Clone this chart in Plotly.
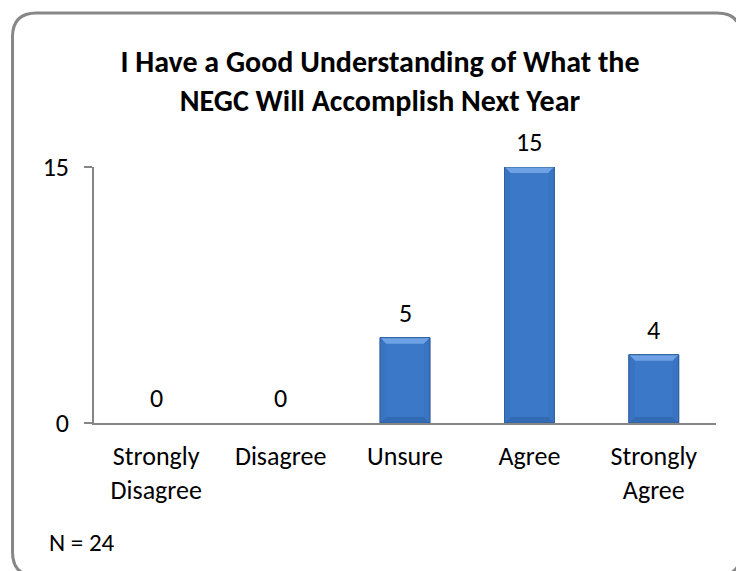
import plotly.graph_objects as go

# Survey responses
categories = ["Strongly<br>Disagree", "Disagree", "Unsure", "Agree", "Strongly<br>Agree"]
counts = [0, 0, 5, 15, 4]
y_ticks = [0, 15]
title_text = "I Have a Good Understanding of What the<br>NEGC Will Accomplish Next Year"
note_text = "N = 24"

FONT = "Carlito, Lato, sans-serif"
GREY = "#868686"

W, H = 736, 571
ML, MR, MT, MB = 94, 20, 167, 148
PW, PH = W - ML - MR, H - MT - MB
Y_MAX = 15
BAR_W = 0.4

positions = list(range(len(categories)))


def px(xp):
    return (xp - ML) / PW


def py(yp):
    return (H - MB - yp) / PH


fig = go.Figure()
fig.add_trace(go.Bar(
    x=positions,
    y=counts,
    width=BAR_W,
    marker=dict(color="#3B79C8",
                line=dict(color="#2F609F", width=[0 if v == 0 else 1 for v in counts])),
    hovertext=[c.replace("<br>", " ") for c in categories],
    hoverinfo="text+y",
))

# Bevelled edges on each bar (6 px deep)
bev_x = 6 / (PW / len(categories))
bev_y = 6 * Y_MAX / PH
hw = BAR_W / 2
for i, v in zip(positions, counts):
    if v <= 0:
        continue
    x0, x1 = i - hw, i + hw
    faces = [
        ("#6EA2E4", [(x0, v), (x1, v), (x1 - bev_x, v - bev_y), (x0 + bev_x, v - bev_y)]),
        ("#336AB4", [(x0, 0), (x1, 0), (x1 - bev_x, bev_y), (x0 + bev_x, bev_y)]),
        ("#3874C2", [(x0, 0), (x0, v), (x0 + bev_x, v - bev_y), (x0 + bev_x, bev_y)]),
        ("#3874C2", [(x1, 0), (x1, v), (x1 - bev_x, v - bev_y), (x1 - bev_x, bev_y)]),
    ]
    for color, pts in faces:
        d = "M " + " L ".join(f"{a},{b}" for a, b in pts) + " Z"
        fig.add_shape(type="path", xref="x", yref="y", path=d,
                      fillcolor=color, line=dict(width=0), layer="above")
    fig.add_shape(type="rect", xref="x", yref="y", x0=x0, x1=x1, y0=0, y1=v,
                  line=dict(color="#2F609F", width=1), layer="above")

# Value labels above each bar
for i, v in zip(positions, counts):
    fig.add_annotation(x=i, y=v, text=str(v), showarrow=False,
                       yanchor="middle", yshift=25,
                       font=dict(family=FONT, size=26, color="#000000"))

# Sample size note
fig.add_annotation(xref="paper", yref="paper", x=px(47), y=py(542),
                   xanchor="left", yanchor="middle", text=note_text,
                   showarrow=False,
                   font=dict(family=FONT, size=25, color="#000000"))

# Rounded frame around the chart
L, T, R, B, r = 12.5, 13, 741, 576, 24
path = (f"M {px(L)},{py(T + r)} Q {px(L)},{py(T)} {px(L + r)},{py(T)} "
        f"L {px(R - r)},{py(T)} Q {px(R)},{py(T)} {px(R)},{py(T + r)} "
        f"L {px(R)},{py(B - r)} Q {px(R)},{py(B)} {px(R - r)},{py(B)} "
        f"L {px(L + r)},{py(B)} Q {px(L)},{py(B)} {px(L)},{py(B - r)} Z")
fig.add_shape(type="path", xref="paper", yref="paper", path=path,
              line=dict(color="#878787", width=3))

fig.update_layout(
    width=W, height=H,
    margin=dict(l=ML, r=MR, t=MT, b=MB),
    paper_bgcolor="white", plot_bgcolor="white",
    showlegend=False,
    title=dict(text=title_text, x=380 / W, xanchor="center", xref="container",
               y=1 - 72 / H, yanchor="middle", yref="container",
               font=dict(family=FONT, size=30, color="#000000", weight="bold")),
    font=dict(family=FONT, color="#000000"),
)
fig.update_yaxes(range=[0, Y_MAX], tickvals=y_ticks, ticks="outside", ticklen=8,
                 tickcolor=GREY, tickwidth=1.5, showline=True, linecolor=GREY,
                 linewidth=1.5, showgrid=True, gridcolor=GREY, gridwidth=1.5,
                 zeroline=False, ticklabelstandoff=10,
                 tickfont=dict(family=FONT, size=26, color="#000000"))
fig.update_xaxes(range=[-0.5, len(categories) - 0.5], tickvals=positions,
                 ticktext=categories, showline=True, linecolor=GREY,
                 linewidth=1.5, ticks="", showgrid=False, zeroline=False,
                 ticklabelstandoff=9,
                 tickfont=dict(family=FONT, size=26, color="#000000"))

fig.write_html("out.html")
